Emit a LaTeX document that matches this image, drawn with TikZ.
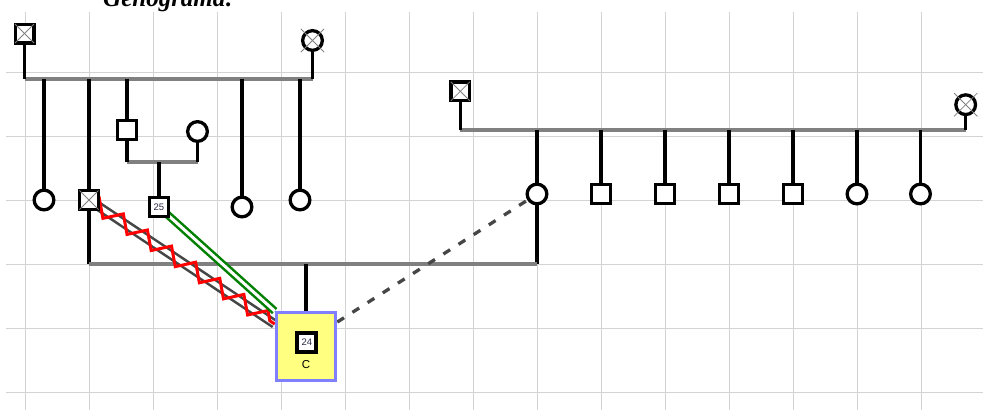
\documentclass[tikz,border=0pt]{standalone}
\usepackage{fontspec}
\setmainfont{Liberation Serif}
\setsansfont{Liberation Sans}
\usetikzlibrary{backgrounds,decorations.pathmorphing,calc}
\definecolor{gridc}{RGB}{211,211,211}
\definecolor{mline}{RGB}{128,128,128}
\definecolor{dline}{RGB}{70,70,70}
\definecolor{boxfill}{RGB}{255,255,128}
\definecolor{boxdraw}{RGB}{128,128,255}
\definecolor{gline}{RGB}{0,128,0}
\definecolor{numc}{RGB}{40,40,70}
\tikzset{
  male/.style={rectangle, draw=black, line width=3.3pt, fill=white, minimum size=18.7pt, inner sep=0pt},
  female/.style={circle, draw=black, line width=3.3pt, fill=white, minimum size=19.7pt, inner sep=0pt},
  numtext/.style={font=\fontsize{9.5}{10}\selectfont\sffamily, text=numc},
  xmark/.style={draw=mline, line width=0.8pt},
  kin/.style={draw=black, line width=3.3pt},
  union/.style={draw=mline, line width=3.8pt},
  gridline/.style={draw=gridc, line width=1pt},
  indexbox/.style={rectangle, draw=boxdraw, fill=boxfill, line width=3.3pt, minimum width=59.3pt, minimum height=68pt, inner sep=0pt},
  hostilebase/.style={draw=dline, line width=2.6pt, double=white, double distance=4.5pt},
  hostilezz/.style={draw=red, line width=3pt, line join=miter, decorate, decoration={zigzag, segment length=29pt, amplitude=7.5pt}},
  closerel/.style={draw=gline, line width=2.5pt, double=white, double distance=3pt},
  distantrel/.style={draw=dline, line width=3.3pt, dash pattern=on 8pt off 10pt}
}
\begin{document}
\begin{tikzpicture}[x=1pt,y=-1pt]
\useasboundingbox (0,0) rectangle (983,410);
% title
\node[anchor=base west, inner sep=0pt, font=\fontsize{25}{30}\selectfont\bfseries\itshape] (title) at (103,6.5) {Genograma:};
% persons, left family
\node[male] (F1) at (24.5,33.5) {};
\node[female] (M1) at (312.5,40.5) {};
\coordinate (u1a) at (24.5,79);
\coordinate (u1b) at (312.5,79);
\node[female] (c1) at (44,200) {};
\node[male] (c2) at (89,200) {};
\node[male] (c3) at (127,130) {};
\node[female] (c4) at (242,207) {};
\node[female] (c5) at (300,200) {};
\node[female] (s3) at (197.5,131.5) {};
\coordinate (u2a) at (127,162);
\coordinate (u2b) at (197.5,162);
\coordinate (u2c) at (159,162);
\node[male, numtext] (k25) at (159,207) {25};
% right family
\node[male] (F2) at (460.3,91.3) {};
\node[female] (M2) at (965.7,104.7) {};
\coordinate (u3a) at (460.3,130);
\coordinate (u3b) at (965.7,130);
\node[female] (d1) at (537,194) {};
\node[male] (d2) at (601,194) {};
\node[male] (d3) at (665,194) {};
\node[male] (d4) at (729,194) {};
\node[male] (d5) at (793,194) {};
\node[female] (d6) at (857,194) {};
\node[female] (d7) at (920.5,194) {};
% bottom union and index person
\coordinate (u4a) at (89,264);
\coordinate (u4b) at (537,264);
\coordinate (u4c) at (306,264);
\node[indexbox] (Cbox) at (306,346.7) {};
\node[male, line width=3.8pt, minimum size=19pt, numtext] (p24) at (306.8,342.3) {24};
\node[inner sep=0pt, font=\fontsize{11.5}{13}\selectfont\sffamily] (Clab) at (306,365) {C};
% crosses of deceased persons
\draw[xmark] ($(F1.center)+(-9.5,-9.5)$) -- ($(F1.center)+(9.5,9.5)$);
\draw[xmark] ($(F1.center)+(-9.5,9.5)$) -- ($(F1.center)+(9.5,-9.5)$);
\draw[xmark] ($(c2.center)+(-9.5,-9.5)$) -- ($(c2.center)+(9.5,9.5)$);
\draw[xmark] ($(c2.center)+(-9.5,9.5)$) -- ($(c2.center)+(9.5,-9.5)$);
\draw[xmark] ($(F2.center)+(-9.5,-9.5)$) -- ($(F2.center)+(9.5,9.5)$);
\draw[xmark] ($(F2.center)+(-9.5,9.5)$) -- ($(F2.center)+(9.5,-9.5)$);
\draw[xmark] ($(M1.center)+(-11.7,-11.7)$) -- ($(M1.center)+(11.7,11.7)$);
\draw[xmark] ($(M1.center)+(-11.7,11.7)$) -- ($(M1.center)+(11.7,-11.7)$);
\draw[xmark] ($(M2.center)+(-11.7,-11.7)$) -- ($(M2.center)+(11.7,11.7)$);
\draw[xmark] ($(M2.center)+(-11.7,11.7)$) -- ($(M2.center)+(11.7,-11.7)$);
\begin{pgfonlayer}{background}
  % grid
  \foreach \k in {0,...,14} \draw[gridline] (25+64*\k,12) -- (25+64*\k,410);
  \foreach \k in {0,...,5} \draw[gridline] (6,72+64.1*\k) -- (983,72+64.1*\k);
  % left family
  \draw[union] (u1a) -- (u1b);
  \draw[kin] (F1) -- (u1a);
  \draw[kin] (M1) -- (u1b);
  \draw[kin] (c1 |- u1a) -- (c1);
  \draw[kin] (c2 |- u1a) -- (c2 |- u4a);
  \draw[kin] (c3 |- u1a) -- (c3);
  \draw[kin] (c4 |- u1a) -- (c4);
  \draw[kin] (c5 |- u1a) -- (c5);
  \draw[union] (u2a) -- (u2b);
  \draw[kin] (c3) -- (u2a);
  \draw[kin] (s3) -- (u2b);
  \draw[kin] (u2c) -- (k25);
  % right family
  \draw[union] (u3a) -- (u3b);
  \draw[kin] (F2) -- (u3a);
  \draw[kin] (M2) -- (u3b);
  \draw[kin] (d1 |- u3a) -- (d1 |- u4a);
  \draw[kin] (d2 |- u3a) -- (d2);
  \draw[kin] (d3 |- u3a) -- (d3);
  \draw[kin] (d4 |- u3a) -- (d4);
  \draw[kin] (d5 |- u3a) -- (d5);
  \draw[kin] (d6 |- u3a) -- (d6);
  \draw[kin] (d7 |- u3a) -- (d7);
  % bottom union
  \draw[union] (u4a) -- (u4b);
  \draw[kin] (u4c) -- (Cbox);
  % emotional relations
  \coordinate (hend) at ($(Cbox.north west)+(0,13)$);
  \draw[hostilebase] (c2.center) -- (hend);
  \draw[hostilezz] (c2.center) -- (hend);
  \draw[closerel] (k25.center) -- (Cbox.north west);
  \draw[distantrel] ($(Cbox.north east)+(0,11)$) -- (d1.center);
\end{pgfonlayer}
\end{tikzpicture}
\end{document}
